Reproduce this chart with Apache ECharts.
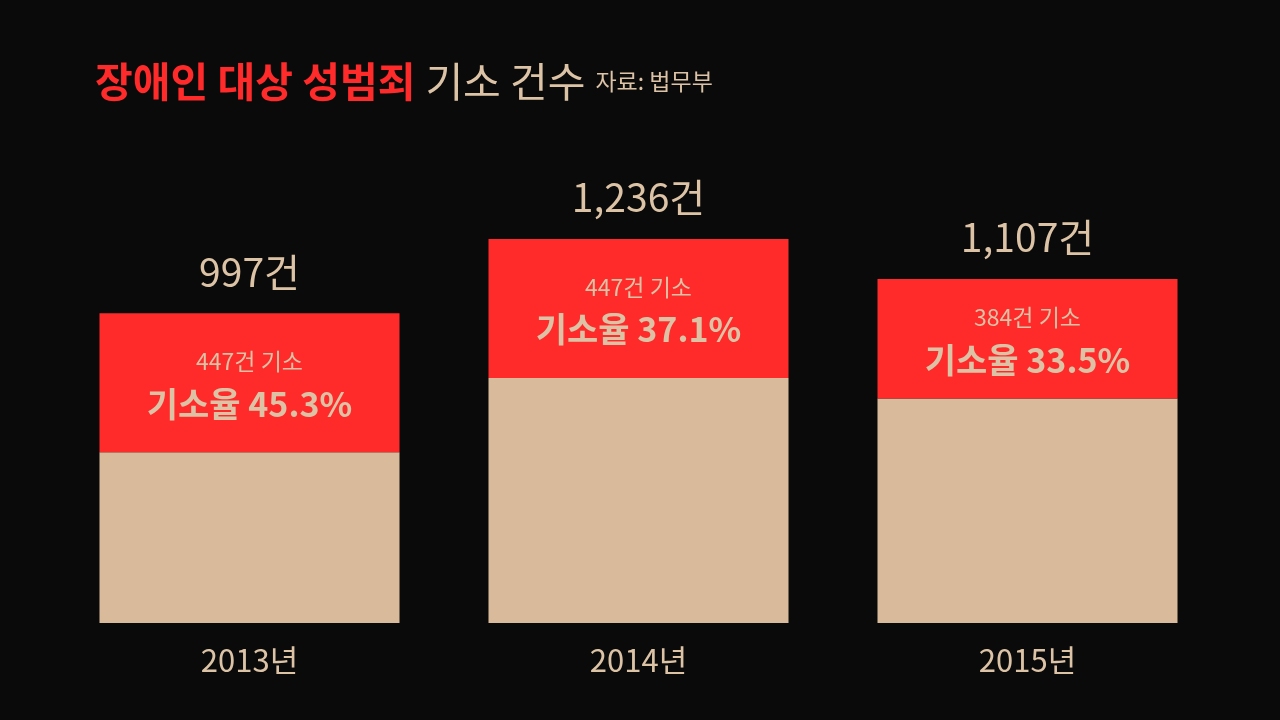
<!DOCTYPE html>
<html><head><meta charset="utf-8">
<script src="https://cdn.jsdelivr.net/npm/echarts@6/dist/echarts.min.js"></script>
<style>html,body{margin:0;background:#0b0a0b}#c{width:1280px;height:720px}</style>
</head><body><div id="c"></div>
<script>
const categories = ['2013년','2014년','2015년'];
const totals = [997, 1236, 1107];
const indicted = [447, 447, 384];
const rates = ['45.3%','37.1%','33.5%'];
const totalLabels = ['997건','1,236건','1,107건'];
const rest = totals.map((t,i)=>t-indicted[i]);
const F = '"Noto Sans CJK KR","Noto Sans",sans-serif';
const beige = '#d9bb9b', red = '#ff2a2a', txt = '#dcc3a6';
const chart = echarts.init(document.getElementById('c'));
chart.setOption({
  backgroundColor:'#0b0a0b',
  title:{left:90,top:56,text:'{a|장애인 대상 성범죄}  {b|기소 건수}  {c|자료: 법무부}',
    textStyle:{rich:{a:{fontFamily:F,fontSize:41,fontWeight:'bold',color:red,letterSpacing:-1},
      b:{fontFamily:F,fontSize:41,fontWeight:'normal',color:txt},c:{fontFamily:F,fontSize:23,fontWeight:'normal',color:txt}}}},
  grid:{left:55,right:58,top:157,bottom:97},
  xAxis:{type:'category',data:categories,axisLine:{show:false},axisTick:{show:false},
    axisLabel:{color:txt,fontFamily:F,fontSize:31,margin:22}},
  yAxis:{type:'value',min:0,max:1500,show:false,splitLine:{show:false}},
  series:[
    {type:'bar',stack:'s',data:rest,barWidth:300,itemStyle:{color:beige},silent:true},
    {type:'bar',stack:'s',data:indicted,itemStyle:{color:red},silent:true,
      label:{show:true,position:'inside',formatter:p=>'{s|'+indicted[p.dataIndex]+'건 기소}\n{b|기소율 '+rates[p.dataIndex]+'}',
        rich:{s:{fontFamily:F,fontSize:23,color:txt,lineHeight:42},b:{fontFamily:F,fontSize:34,fontWeight:'bold',color:txt,lineHeight:42}}}},
    {type:'bar',stack:'s',data:[0,0,0],itemStyle:{color:'transparent'},silent:true,
      label:{show:true,position:'top',distance:22,formatter:p=>totalLabels[p.dataIndex],
        fontFamily:F,fontSize:39,color:txt}}
  ]
});
</script></body></html>
